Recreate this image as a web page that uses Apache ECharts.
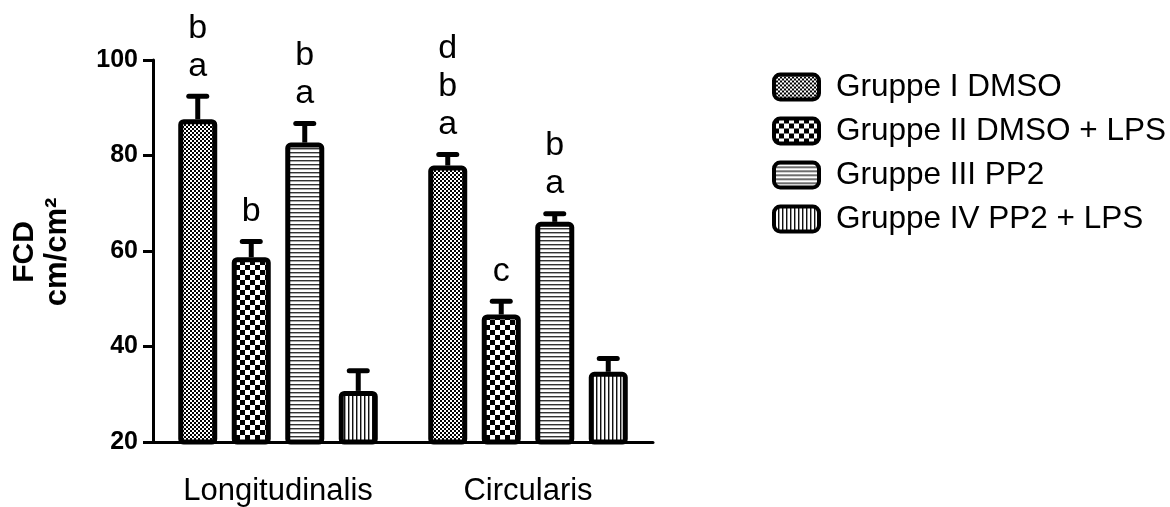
<!DOCTYPE html>
<html>
<head>
<meta charset="utf-8">
<script src="https://cdn.jsdelivr.net/npm/echarts@6/dist/echarts.min.js"></script>
<style>
html,body{margin:0;padding:0;background:#fff;}
#c{width:1170px;height:507px;}
</style>
</head>
<body>
<div id="c"></div>
<script>
// ---- data ----
var categories = ['Longitudinalis', 'Circularis'];
var seriesNames = ['Gruppe I DMSO', 'Gruppe II DMSO + LPS', 'Gruppe III PP2', 'Gruppe IV PP2 + LPS'];
var g1Mean = [87.6, 77.9];
var g2Mean = [58.7, 46.7];
var g3Mean = [82.7, 66.1];
var g4Mean = [30.7, 34.7];
var g1Sem = [4.8, 2.3];
var g2Sem = [3.3, 2.8];
var g3Sem = [4.0, 1.7];
var g4Sem = [4.2, 2.8];
var g1Letters = [['b', 'a'], ['d', 'b', 'a']];
var g2Letters = [['b'], ['c']];
var g3Letters = [['b', 'a'], ['b', 'a']];
var g4Letters = [[], []];
var yTicks = [20, 40, 60, 80, 100];

var means = [g1Mean, g2Mean, g3Mean, g4Mean];
var sems = [g1Sem, g2Sem, g3Sem, g4Sem];
var letters = [g1Letters, g2Letters, g3Letters, g4Letters];

// ---- patterns ----
function mk(w, h, draw) {
  var c = document.createElement('canvas');
  c.width = w; c.height = h;
  var ctx = c.getContext('2d');
  ctx.fillStyle = '#fff'; ctx.fillRect(0, 0, w, h);
  draw(ctx);
  return { image: c, repeat: 'repeat' };
}
var patterns = [
  mk(4, 4, function (ctx) { ctx.fillStyle = '#000'; ctx.fillRect(0, 0, 2, 2); ctx.fillRect(2, 2, 2, 2); }),
  mk(10, 10, function (ctx) { ctx.fillStyle = '#000'; ctx.fillRect(0, 0, 5, 5); ctx.fillRect(5, 5, 5, 5); }),
  mk(4, 4, function (ctx) { ctx.fillStyle = '#333'; ctx.fillRect(0, 0, 4, 1); ctx.fillStyle = '#aaa'; ctx.fillRect(0, 1, 4, 1); }),
  mk(4, 4, function (ctx) { ctx.fillStyle = '#111'; ctx.fillRect(0, 0, 1, 4); ctx.fillStyle = '#999'; ctx.fillRect(1, 0, 1, 4); })
];

var FONT = '"Liberation Sans", Arial, Helvetica, sans-serif';
var BAR_W = 39, BAR_STEP = 53.5, CAT_W = 250;

var series = [];
seriesNames.forEach(function (name, i) {
  series.push({
    name: name,
    type: 'bar',
    data: means[i],
    barWidth: BAR_W,
    barGap: ((BAR_STEP - BAR_W) / BAR_W * 100).toFixed(1) + '%',
    itemStyle: {
      color: patterns[i],
      borderColor: '#000',
      borderWidth: 5,
      borderRadius: 3
    },
    z: 2
  });
});
seriesNames.forEach(function (name, i) {
  var d = means[i].map(function (m, k) { return [k, m, m + sems[i][k], letters[i][k].join('\n')]; });
  series.push({
    type: 'custom',
    name: name + ' err',
    data: d,
    z: 5,
    silent: true,
    encode: { x: 0, y: [1, 2] },
    renderItem: function (params, api) {
      var cat = api.value(0);
      var band = api.size([1, 0])[0];
      var off = (i - 1.5) * BAR_STEP * band / CAT_W;
      var pBase = api.coord([cat, api.value(1)]);
      var pTop = api.coord([cat, api.value(2)]);
      var x = pBase[0] + off;
      var txt = d[params.dataIndex][3];
      var children = [
        { type: 'line', shape: { x1: x, y1: pBase[1], x2: x, y2: pTop[1] }, style: { stroke: '#000', lineWidth: 5 } },
        { type: 'line', shape: { x1: x - 9, y1: pTop[1], x2: x + 9, y2: pTop[1] }, style: { stroke: '#000', lineWidth: 5, lineCap: 'round' } }
      ];
      if (txt) {
        children.push({
          type: 'text',
          x: x, y: pTop[1] - 11,
          style: {
            text: txt, fill: '#000', font: '34px ' + FONT, lineHeight: 38,
            align: 'center', verticalAlign: 'bottom'
          }
        });
      }
      return { type: 'group', children: children };
    }
  });
});

var chart = echarts.init(document.getElementById('c'));
chart.setOption({
  animation: false,
  backgroundColor: '#fff',
  grid: { left: 153, top: 60, width: 500, height: 382, containLabel: false },
  legend: {
    data: seriesNames,
    orient: 'vertical',
    left: 767, top: 66,
    icon: 'roundRect',
    itemWidth: 45, itemHeight: 25,
    itemGap: 12,
    textStyle: { fontFamily: FONT, fontSize: 31.5, color: '#000', lineHeight: 32, padding: [0, 0, 0, 12] },
    itemStyle: { borderWidth: 4, borderColor: '#000' },
    selectedMode: false
  },
  xAxis: {
    type: 'category',
    data: categories,
    boundaryGap: true,
    axisLine: { lineStyle: { color: '#000', width: 3 } },
    axisTick: { alignWithLabel: true, length: 9, lineStyle: { color: '#000', width: 3 } },
    axisLabel: { color: '#000', fontFamily: FONT, fontSize: 31, margin: 34, interval: 0 },
    splitLine: { show: false }
  },
  yAxis: {
    type: 'value',
    min: yTicks[0], max: yTicks[yTicks.length - 1], interval: 20,
    axisLine: { show: true, lineStyle: { color: '#000', width: 3 } },
    axisTick: { show: true, length: 10, lineStyle: { color: '#000', width: 3 } },
    axisLabel: { color: '#000', fontFamily: FONT, fontSize: 25, fontWeight: 'bold', margin: 15 },
    splitLine: { show: false }
  },
  graphic: [{
    type: 'text',
    x: 41, y: 252,
    rotation: Math.PI / 2,
    style: {
      text: '{a|FCD}\n{b|cm/cm²}',
      align: 'center', verticalAlign: 'middle',
      rich: {
        a: { fontFamily: FONT, fontSize: 30, fontWeight: 'bold', lineHeight: 32, fill: '#000' },
        b: { fontFamily: FONT, fontSize: 31, fontWeight: 'bold', lineHeight: 32, fill: '#000' }
      }
    }
  }],
  series: series
});
</script>
</body>
</html>
